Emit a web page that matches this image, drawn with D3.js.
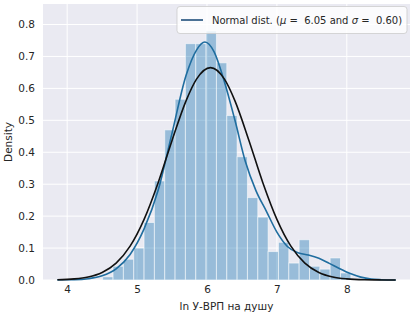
<!DOCTYPE html>
<html>
<head>
<meta charset="utf-8">
<script src="https://cdn.jsdelivr.net/npm/d3@7"></script>
<style>
  body { margin: 0; background: #fff; }
  svg { display: block; font-family: "DejaVu Sans", sans-serif; }
</style>
</head>
<body>
<div id="container"></div>
<script>
/* CONSTANTS AND GLOBALS */
const width = 414,
  height = 317;

// histogram: bin edges start + width, densities
const binStart = 4.508,
  binWidth = 0.1479;
const binDensity = [0.01, 0.043, 0.065, 0.10, 0.18, 0.31, 0.47, 0.566, 0.74, 0.74, 0.78, 0.68,
  0.515, 0.386, 0.258, 0.197, 0.089, 0.118, 0.053, 0.126, 0.043, 0.034, 0.069, 0.022];

// fitted normal curve (black)
const normX = [3.86, 4.1, 4.3, 4.5, 4.7, 4.9, 5.1, 5.3, 5.5, 5.7, 5.85, 6.05, 6.25, 6.4, 6.6, 6.8,
  7.0, 7.2, 7.4, 7.6, 7.8, 8.0, 8.25, 8.5, 8.7];
const normY = [0.001, 0.0034, 0.0094, 0.0237, 0.053, 0.106, 0.190, 0.304, 0.437, 0.561, 0.629, 0.665,
  0.629, 0.561, 0.437, 0.304, 0.190, 0.106, 0.053, 0.0237, 0.0094, 0.0034, 0.0008, 0.0002, 0];

// kde curve (blue)
const kdeX = [3.86, 4.1, 4.3, 4.5, 4.7, 4.9, 5.1, 5.3, 5.5, 5.7, 5.85, 5.97, 6.1, 6.25, 6.4, 6.55,
  6.7, 6.85, 7.0, 7.15, 7.3, 7.45, 7.6, 7.75, 7.9, 8.05, 8.2, 8.35, 8.5, 8.7];
const kdeY = [0.0005, 0.001, 0.004, 0.013, 0.035, 0.08, 0.16, 0.28, 0.46, 0.64, 0.72, 0.745, 0.715,
  0.62, 0.50, 0.37, 0.28, 0.215, 0.15, 0.105, 0.085, 0.078, 0.068, 0.052, 0.035, 0.02, 0.009, 0.003, 0.001, 0];

const xTicks = [4, 5, 6, 7, 8],
  yTicks = [0, 0.1, 0.2, 0.3, 0.4, 0.5, 0.6, 0.7, 0.8];

const legendLabel = ["Normal dist. (", "μ", " =  6.05 and ", "σ", " =  0.60)"];

/* SCALES */
const plotLeft = 43, plotRight = 410, plotTop = 4, plotBottom = 280;

const xScale = d3.scaleLinear()
  .domain([3.654, 8.904])
  .range([plotLeft, plotRight]);

const yScale = d3.scaleLinear()
  .domain([0, 0.8])
  .range([plotBottom, 24.5]);

const svg = d3.select("#container")
  .append("svg")
  .attr("width", width)
  .attr("height", height);

// background
svg.append("rect")
  .attr("x", plotLeft).attr("y", plotTop)
  .attr("width", plotRight - plotLeft)
  .attr("height", plotBottom - plotTop)
  .attr("fill", "#eaeaf2");

// grid
svg.append("g")
  .selectAll("line")
  .data(xTicks)
  .join("line")
  .attr("x1", d => xScale(d)).attr("x2", d => xScale(d))
  .attr("y1", plotTop).attr("y2", plotBottom)
  .attr("stroke", "#fff").attr("stroke-width", 1);

svg.append("g")
  .selectAll("line")
  .data(yTicks)
  .join("line")
  .attr("x1", plotLeft).attr("x2", plotRight)
  .attr("y1", d => yScale(d)).attr("y2", d => yScale(d))
  .attr("stroke", "#fff").attr("stroke-width", 1);

// axes (labels only, no domain or ticks)
const xAxis = svg.append("g")
  .attr("transform", `translate(0, ${plotBottom})`)
  .call(d3.axisBottom(xScale).tickValues(xTicks).tickSize(0).tickPadding(6).tickFormat(d3.format("d")));
const yAxis = svg.append("g")
  .attr("transform", `translate(${plotLeft}, 0)`)
  .call(d3.axisLeft(yScale).tickValues(yTicks).tickSize(0).tickPadding(8).tickFormat(d3.format(".1f")));
[xAxis, yAxis].forEach(a => {
  a.select(".domain").remove();
  a.selectAll("text")
    .attr("font-family", "DejaVu Sans")
    .attr("font-size", 10.5)
    .attr("fill", "#262626");
});

// histogram bars
svg.append("g")
  .selectAll("rect")
  .data(binDensity)
  .join("rect")
  .attr("x", (d, i) => xScale(binStart + i * binWidth))
  .attr("width", xScale(binWidth) - xScale(0))
  .attr("y", d => yScale(d))
  .attr("height", d => yScale(0) - yScale(d))
  .attr("fill", "#1f77b4")
  .attr("fill-opacity", 0.4)
  .attr("stroke", "#fff")
  .attr("stroke-opacity", 0.55)
  .attr("stroke-width", 1);

// curves
const line = d3.line()
  .x(d => xScale(d[0]))
  .y(d => yScale(d[1]))
  .curve(d3.curveMonotoneX);

svg.append("path")
  .datum(d3.zip(kdeX, kdeY))
  .attr("d", line)
  .attr("fill", "none")
  .attr("stroke", "#1f6d9f")
  .attr("stroke-width", 1.6);

svg.append("path")
  .datum(d3.zip(normX, normY))
  .attr("d", line)
  .attr("fill", "none")
  .attr("stroke", "#111")
  .attr("stroke-width", 1.6);

// axis titles
svg.append("text")
  .attr("x", (plotLeft + plotRight) / 2)
  .attr("y", 310)
  .attr("text-anchor", "middle")
  .attr("font-size", 10.5)
  .attr("fill", "#262626")
  .text("ln У-ВРП на душу");

svg.append("text")
  .attr("transform", `translate(12, ${(plotTop + plotBottom) / 2}) rotate(-90)`)
  .attr("text-anchor", "middle")
  .attr("font-size", 10.5)
  .attr("fill", "#262626")
  .text("Density");

// legend
const legendG = svg.append("g");
legendG.append("rect")
  .attr("x", 177).attr("y", 6.5)
  .attr("width", 230).attr("height", 27)
  .attr("rx", 3)
  .attr("fill", "#fff").attr("fill-opacity", 0.8)
  .attr("stroke", "#ccc").attr("stroke-opacity", 0.8);

legendG.append("line")
  .attr("x1", 181).attr("x2", 203)
  .attr("y1", 20).attr("y2", 20)
  .attr("stroke", "#1f4f7a").attr("stroke-width", 1.6);

const legendText = legendG.append("text")
  .attr("x", 212)
  .attr("y", 23.5)
  .attr("font-size", 10)
  .attr("fill", "#262626");
legendText.selectAll("tspan")
  .data(legendLabel)
  .join("tspan")
  .attr("font-style", (d, i) => (i === 1 || i === 3) ? "italic" : "normal")
  .style("white-space", "pre")
  .text(d => d);
</script>
</body>
</html>
